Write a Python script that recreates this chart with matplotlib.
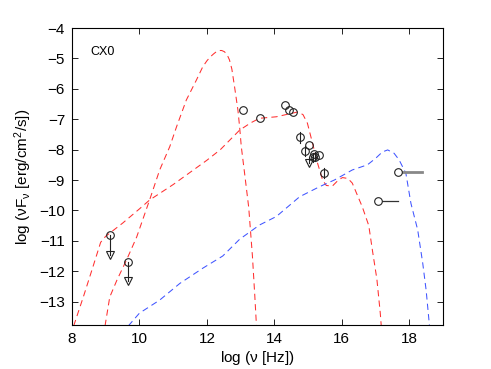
import matplotlib
matplotlib.use('Agg')
import matplotlib.pyplot as plt

plt.rcParams['font.family'] = ['Liberation Sans', 'DejaVu Sans']
plt.rcParams['mathtext.fontset'] = 'custom'
plt.rcParams['mathtext.rm'] = 'Liberation Sans'
plt.rcParams['mathtext.it'] = 'Liberation Sans:italic'
plt.rcParams['axes.unicode_minus'] = True

# ---- model curves ----
sync_x = [8.98, 9.12, 9.33, 9.63, 9.92, 10.3, 10.6, 10.9, 11.1, 11.39, 11.69, 11.88,
          12.0, 12.1, 12.2, 12.28, 12.36, 12.44, 12.52, 12.6, 12.67, 12.74, 12.82, 12.92,
          12.97, 13.02, 13.12, 13.24, 13.35, 13.42, 13.47]
sync_y = [-13.8, -12.85, -12.3, -11.6, -10.87, -9.66, -8.67, -7.9, -7.25, -6.37, -5.71, -5.27,
          -5.08, -4.95, -4.85, -4.78, -4.74, -4.74, -4.78, -4.88, -5.05, -5.35, -5.93, -6.7,
          -7.25, -7.9, -8.8, -9.9, -11.5, -12.8, -13.8]

broad_x = [8.05, 8.35, 8.62, 8.85, 9.0, 9.5, 10.0, 10.3, 11.0, 11.5, 12.0, 12.4, 12.97,
           13.3, 13.56, 14.06, 14.5, 14.7, 14.85, 14.98, 15.13, 15.28, 15.43, 15.54, 15.72,
           15.9, 16.02, 16.18, 16.31, 16.61, 16.8, 16.91, 17.04, 17.14, 17.17]
broad_y = [-13.8, -12.8, -11.86, -11.05, -10.85, -10.42, -9.95, -9.66, -9.15, -8.75, -8.35,
           -8.0, -7.36, -7.12, -6.97, -6.92, -6.81, -6.76, -6.85, -7.13, -7.78, -8.44, -9.0,
           -9.18, -9.2, -9.0, -8.92, -8.95, -9.1, -9.89, -10.5, -11.33, -12.26, -13.37, -13.8]

ic_x = [9.67, 10.0, 10.6, 11.2, 11.88, 12.47, 12.97, 13.56, 14.06, 14.75, 15.34, 15.78,
        16.31, 16.76, 17.0, 17.2, 17.36, 17.55, 17.7, 17.9, 18.05, 18.25, 18.4, 18.5, 18.6]
ic_y = [-13.8, -13.38, -12.95, -12.4, -11.9, -11.5, -10.95, -10.48, -10.2, -9.55, -9.22, -9.0,
        -8.67, -8.5, -8.29, -8.08, -8.01, -8.12, -8.34, -8.78, -9.77, -10.64, -11.74, -12.62, -13.8]

# ---- data points ----
det_x = [13.08, 13.56, 14.33, 14.43, 14.55, 14.77, 15.04, 14.9, 15.17, 15.21, 15.31, 15.14, 15.48]
det_y = [-6.71, -6.97, -6.53, -6.7, -6.77, -7.6, -7.85, -8.04, -8.15, -8.23, -8.18, -8.25, -8.78]
err_x = [14.77, 14.9, 15.14, 15.21, 15.48]
err_y = [-7.6, -8.04, -8.25, -8.23, -8.78]
err_v = [0.17, 0.17, 0.15, 0.15, 0.17]

ul_x = [9.12, 9.67]
ul_top = [-10.81, -11.69]
ul_bot = [-11.47, -12.31]
ul2_x = [15.02]
ul2_top = [-8.25]
ul2_bot = [-8.45]

hx_x0 = [17.68, 17.08]
hx_x1 = [18.38, 17.68]
hx_y = [-8.73, -9.68]

fig = plt.figure(figsize=(4.91, 3.69), dpi=100)
ax = fig.add_axes([0.1466, 0.1192, 0.7556, 0.8049])

red = '#ff3030'
blue = '#4055ff'
for xs, ys, c in [(sync_x, sync_y, red), (broad_x, broad_y, red), (ic_x, ic_y, blue)]:
    ln, = ax.plot(xs, ys, color=c, lw=0.75)
    ln.set_dashes((6, 4))

mk = '#222222'
ax.plot(det_x, det_y, 'o', mfc='none', mec=mk, ms=5.5, mew=0.8)
for x, y, e in zip(err_x, err_y, err_v):
    ax.plot([x, x], [y - e, y + e], color=mk, lw=0.8)

for x, t, b in zip(ul_x, ul_top, ul_bot):
    ax.plot([x], [t], 'o', mfc='none', mec=mk, ms=5.5, mew=0.8)
    ax.plot([x, x], [t, b], color=mk, lw=0.8)
    ax.plot([x], [b], 'v', mfc='none', mec=mk, ms=6, mew=0.8)
for x, t, b in zip(ul2_x, ul2_top, ul2_bot):
    ax.plot([x, x], [t, b], color=mk, lw=0.8)
    ax.plot([x], [b], 'v', mfc='none', mec=mk, ms=6, mew=0.8)

ax.plot([hx_x0[0], hx_x1[0]], [hx_y[0], hx_y[0]], color='#888888', lw=2.0)
ax.plot([hx_x0[1], hx_x1[1]], [hx_y[1], hx_y[1]], color='#333333', lw=0.9)
ax.plot(hx_x0, hx_y, 'o', mfc='white', mec=mk, ms=5.5, mew=0.8, zorder=5)

ax.text(8.55, -4.8, 'CX0', fontsize=9, ha='left', va='center')

ax.set_xlim(8, 19)
ax.set_ylim(-13.77, -4)
ax.set_xticks([8, 10, 12, 14, 16, 18])
ax.set_yticks(list(range(-13, -3)))
ax.tick_params(direction='in', top=True, right=True, length=4, width=0.6,
               labelsize=11, pad=5)
for s in ax.spines.values():
    s.set_linewidth(0.8)

ax.set_xlabel(r'log ($\mathregular{\nu}$ [Hz])', fontsize=11, labelpad=2)
ax.set_ylabel(r'log ($\mathregular{\nu F_{\nu}}$ [erg/cm$^{\mathregular{2}}$/s])', fontsize=11, labelpad=4)

fig.savefig('out.png', dpi=100)
